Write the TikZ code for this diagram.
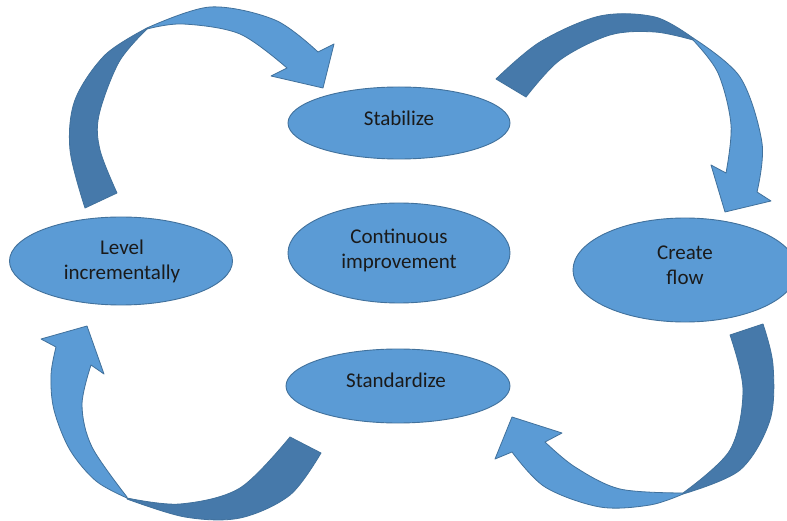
\documentclass[tikz,border=0pt]{standalone}
\usepackage{fontspec}
\setmainfont{Carlito}
\usetikzlibrary{shapes.geometric}
\definecolor{lightblue}{HTML}{5B9BD5}
\definecolor{darkblue}{HTML}{4679AA}
\definecolor{edgeblue}{HTML}{41719C}
\definecolor{txt}{HTML}{1A1A1A}
\tikzset{
  ell/.style={ellipse, fill=lightblue, draw=edgeblue, line width=0.9pt, inner sep=0pt},
  lbl/.style={text=txt, font=\fontsize{21}{25}\selectfont, align=center, inner sep=0pt},
  front/.style={fill=lightblue, draw=edgeblue, line width=0.8pt, line join=round},
  back/.style={fill=darkblue, draw=edgeblue, line width=0.8pt, line join=round},
  sm/.style={smooth, tension=0.55}
}
\begin{document}
\begin{tikzpicture}[x=1pt,y=-1pt]
\useasboundingbox (0,0) rectangle (787,521);
\clip (0,0) rectangle (787,521);
\fill[white] (0,0) rectangle (787,521);

% ellipses
\node[ell, minimum width=222pt, minimum height=72pt] (stab) at (399,123) {};
\node[ell, minimum width=222pt, minimum height=100pt] (cont) at (399,253) {};
\node[ell, minimum width=223pt, minimum height=88pt] (level) at (121,261) {};
\node[ell, minimum width=224pt, minimum height=104pt] (flow) at (685,270) {};
\node[ell, minimum width=224pt, minimum height=74pt] (std) at (398,386) {};

\node[lbl] (stabt) at (399,118) {Stabilize};
\node[lbl] (contt) at (399,250) {Continuous\\improvement};
\node[lbl] (levelt) at (122,261) {Level\\incrementally};
\node[lbl] (flowt) at (685,265) {Create\\flow};
\node[lbl] (stdt) at (396,380) {Standardize};

% arrow 1 (top-left)
\filldraw[back] plot[sm] coordinates {(85,208) (70,150) (75,100) (105,55) (147,28)}
  -- plot[sm] coordinates {(147,29) (119,62) (99,115) (100,150) (117,193)} -- cycle;
\filldraw[front] plot[sm] coordinates {(147,28) (210,7) (275,20) (318,52)}
  -- (334,44) -- (323,88) -- (271,76)
  -- plot[sm] coordinates {(287,68) (240,34) (183,24) (147,29)} -- cycle;

% arrow 2 (top-right)
\filldraw[back] plot[sm] coordinates {(496,79) (540,42) (600,16) (655,17) (693,38)}
  -- plot[sm] coordinates {(693,40) (655,32) (610,35) (560,60) (526,97)} -- cycle;
\filldraw[front] plot[sm] coordinates {(693,38) (740,77) (762,143) (757,192)}
  -- (771,201) -- (725,212) -- (711,165)
  -- plot[sm] coordinates {(726,173) (731,125) (718,73) (693,40)} -- cycle;

% arrow 3 (bottom-left)
\filldraw[back] plot[sm] coordinates {(127,498) (180,504) (240,488) (290,437)}
  -- plot[sm] coordinates {(321,453) (290,495) (240,518) (185,517) (127,499)} -- cycle;
\filldraw[front] plot[sm] coordinates {(127,498) (96,481) (70,450) (54,410) (51,375) (56,347)}
  -- (41,339) -- (87,326) -- (104,374)
  -- plot[sm] coordinates {(91,365) (82,405) (92,447) (127,497)} -- cycle;

% arrow 4 (bottom-right)
\filldraw[back] plot[sm] coordinates {(730,335) (743,390) (730,450) (683,493)}
  -- plot[sm] coordinates {(683,494) (740,470) (770,420) (773,365) (763,324)} -- cycle;
\filldraw[front] plot[sm] coordinates {(683,493) (620,489) (575,467) (545,442)}
  -- (562,433) -- (512,417) -- (495,459)
  -- plot[sm] coordinates {(512,452) (545,487) (600,507) (650,505) (683,494)} -- cycle;
\end{tikzpicture}
\end{document}
